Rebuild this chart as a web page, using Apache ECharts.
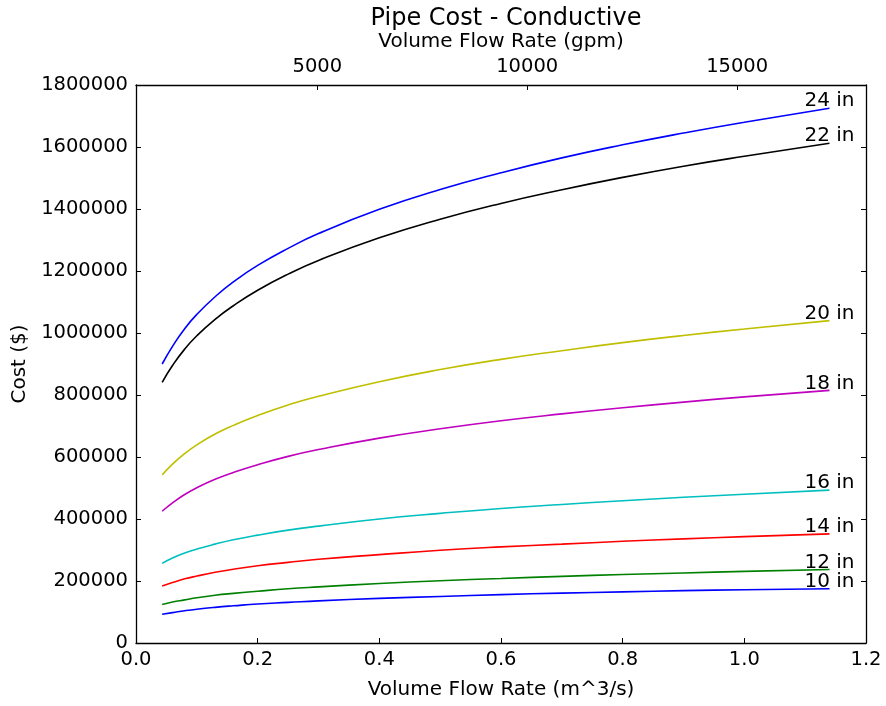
<!DOCTYPE html>
<html>
<head>
<meta charset="utf-8">
<script src="https://cdn.jsdelivr.net/npm/echarts@6/dist/echarts.min.js"></script>
<style>
  html, body { margin: 0; padding: 0; background: #fff; }
  #chart { width: 886px; height: 706px; }
</style>
</head>
<body>
<div id="chart"></div>
<script>
// Flow rate sample points (m^3/s)
const flowRates = [0.043, 0.06, 0.08, 0.1, 0.13, 0.16, 0.2, 0.25, 0.3, 0.4, 0.5, 0.6, 0.7, 0.8, 0.9, 1.0, 1.14];

// Pipe cost in $ (thousands) per pipe diameter
const cost10in = [93, 98, 104, 109, 115, 120, 126, 131, 136, 144, 150, 156, 161, 165, 169, 172, 175];
const cost12in = [124, 132, 139, 146, 154, 160, 167, 175, 181, 192, 201, 208, 215, 221, 226, 231, 237];
const cost14in = [184, 195, 207, 216, 228, 238, 249, 260, 270, 285, 299, 310, 319, 328, 336, 343, 352];
const cost16in = [257, 274, 290, 303, 319, 333, 348, 364, 377, 400, 418, 434, 447, 459, 470, 480, 493];
const cost18in = [425, 452, 479, 501, 528, 550, 575, 602, 624, 661, 691, 717, 739, 759, 777, 794, 815];
const cost20in = [542, 577, 611, 639, 674, 702, 734, 768, 796, 843, 882, 915, 943, 969, 992, 1013, 1040];
const cost22in = [841, 895, 948, 991, 1044, 1088, 1138, 1190, 1234, 1307, 1367, 1418, 1462, 1502, 1538, 1570, 1612];
const cost24in = [900, 957, 1014, 1060, 1117, 1165, 1218, 1273, 1321, 1399, 1463, 1517, 1565, 1607, 1645, 1680, 1725];

const seriesNames = ['10 in', '12 in', '14 in', '16 in', '18 in', '20 in', '22 in', '24 in'];
const seriesCosts = [cost10in, cost12in, cost14in, cost16in, cost18in, cost20in, cost22in, cost24in];
const seriesColors = ['#0000ff', '#008000', '#ff0000', '#00bfbf', '#bf00bf', '#bfbf00', '#000000', '#0000ff'];

// Axis tick labels
const xTicks = [0.0, 0.2, 0.4, 0.6, 0.8, 1.0, 1.2];
const yTicks = [0, 200000, 400000, 600000, 800000, 1000000, 1200000, 1400000, 1600000, 1800000];
const gpmTicks = [5000, 10000, 15000];
const GPM_PER_M3S = 15850;

const FONT = 'DejaVu Sans';
const chart = echarts.init(document.getElementById('chart'), null, { renderer: 'canvas' });

const lineSeries = seriesCosts.map((arr, i) => ({
  name: seriesNames[i],
  type: 'line',
  xAxisIndex: 0,
  yAxisIndex: 0,
  showSymbol: false,
  smooth: true,
  animation: false,
  lineStyle: { color: seriesColors[i], width: 1.6 },
  data: arr.map((v, j) => [flowRates[j], v * 1000])
}));

const labelSeries = {
  type: 'scatter',
  xAxisIndex: 0,
  yAxisIndex: 0,
  symbolSize: 0,
  animation: false,
  silent: true,
  z: 10,
  itemStyle: { opacity: 1, color: '#000' },
  label: {
    show: true,
    position: 'top',
    distance: -3,
    color: '#000',
    opacity: 1,
    fontFamily: FONT,
    fontSize: 20,
    formatter: p => p.data[2]
  },
  data: seriesCosts.map((arr, i) => [flowRates[flowRates.length - 1], arr[arr.length - 1] * 1000, seriesNames[i]])
};

const axisLine = { show: true, onZero: false, lineStyle: { color: '#000', width: 1.3 } };
const tickStyle = { color: '#000', width: 1 };

chart.setOption({
  animation: false,
  backgroundColor: '#fff',
  title: {
    text: 'Pipe Cost - Conductive',
    left: 501,
    textAlign: 'center',
    top: 2,
    textStyle: { fontFamily: FONT, fontSize: 24, fontWeight: 'normal', color: '#000' }
  },
  grid: { left: 136, right: 20, top: 85, bottom: 63, outerBoundsMode: 'none', containLabel: false },
  xAxis: [
    {
      type: 'value',
      position: 'bottom',
      min: 0,
      max: 1.2,
      interval: 0.2,
      name: 'Volume Flow Rate (m^3/s)',
      nameLocation: 'middle',
      nameGap: 37,
      nameTextStyle: { fontFamily: FONT, fontSize: 20, color: '#000' },
      axisLine: axisLine,
      axisTick: { show: true, inside: true, length: 5, lineStyle: tickStyle },
      axisLabel: { fontFamily: FONT, fontSize: 19.5, color: '#000', margin: 7, formatter: v => v.toFixed(1), customValues: xTicks },
      splitLine: { show: false }
    },
    {
      type: 'value',
      position: 'top',
      min: flowRates[0] * GPM_PER_M3S,
      max: flowRates[flowRates.length - 1] * GPM_PER_M3S,
      name: 'Volume Flow Rate (gpm)',
      nameLocation: 'middle',
      nameGap: 32,
      nameTextStyle: { fontFamily: FONT, fontSize: 20, color: '#000' },
      axisLine: axisLine,
      axisTick: { show: true, inside: true, length: 5, lineStyle: tickStyle, customValues: gpmTicks },
      axisLabel: { fontFamily: FONT, fontSize: 19.5, color: '#000', margin: 8, customValues: gpmTicks, formatter: v => String(v) },
      splitLine: { show: false }
    }
  ],
  yAxis: [
    {
      type: 'value',
      position: 'left',
      min: 0,
      max: 1800000,
      interval: 200000,
      name: 'Cost ($)',
      nameLocation: 'middle',
      nameRotate: 90,
      nameGap: 103,
      nameTextStyle: { fontFamily: FONT, fontSize: 20, color: '#000' },
      axisLine: axisLine,
      axisTick: { show: true, inside: true, length: 5, lineStyle: tickStyle },
      axisLabel: { fontFamily: FONT, fontSize: 19.5, color: '#000', margin: 8, customValues: yTicks, formatter: v => String(v) },
      splitLine: { show: false }
    },
    {
      type: 'value',
      position: 'right',
      min: 0,
      max: 1800000,
      interval: 200000,
      axisLine: axisLine,
      axisTick: { show: true, inside: true, length: 5, lineStyle: tickStyle },
      axisLabel: { show: false },
      splitLine: { show: false }
    }
  ],
  series: [...lineSeries, labelSeries]
});
</script>
</body>
</html>
